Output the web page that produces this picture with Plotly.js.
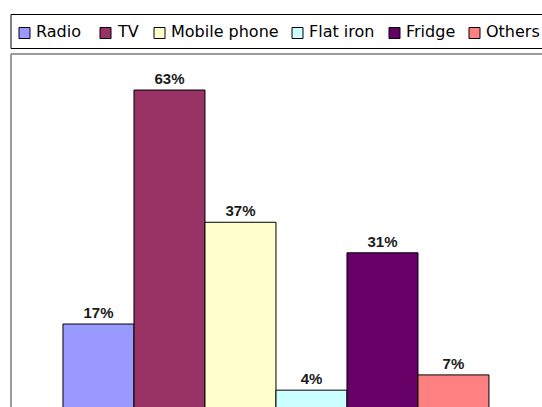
<!DOCTYPE html>
<html>
<head>
<meta charset="utf-8">
<script src="https://cdn.plot.ly/plotly-3.0.1.min.js"></script>
<style>html,body{margin:0;padding:0;background:#fff;}#chart{width:542px;height:407px;}</style>
</head>
<body>
<div id="chart"></div>
<script>
var categories = ["Radio", "TV", "Mobile phone", "Flat iron", "Fridge", "Others"];
var values = [17, 63, 37, 4, 31, 7];
var labels = ["17%", "63%", "37%", "4%", "31%", "7%"];
var colors = ["#9999FF", "#993366", "#FFFFCC", "#CCFFFF", "#660066", "#FF8080"];

// figure geometry (pixels)
var W = 542, H = 407, ML = 11, MT = 54;
var PW = W - ML, PH = H - MT;
function px(x) { return (x - ML) / PW; }
function py(y) { return (H - y) / PH; }

// legend layout: left edge of each legend swatch (pixels)
var legendSwatchLeft = [19, 100, 154, 292, 389, 469];
var swatch = 11, legendMidY = 32.5;

var traces = categories.map(function (name, i) {
  return {
    type: "bar",
    name: name,
    x: [i],
    y: [values[i]],
    width: 1,
    text: [labels[i]],
    textposition: "outside",
    textfont: {family: "Liberation Sans, Arial, sans-serif", size: 15, color: "#1a1a1a", weight: "bold"},
    cliponaxis: false,
    marker: {color: colors[i], line: {color: "#000", width: 1}},
    hoverinfo: "skip",
    showlegend: false
  };
});

var shapes = [
  {type: "rect", xref: "paper", yref: "paper", x0: px(11), x1: px(560), y0: py(48.5), y1: py(14.5), line: {color: "#000", width: 1}, fillcolor: "rgba(0,0,0,0)"},
  {type: "line", xref: "paper", yref: "paper", x0: px(11), x1: px(560), y0: py(54), y1: py(54), line: {color: "#7a7a7a", width: 1.5}},
  {type: "line", xref: "paper", yref: "paper", x0: px(11), x1: px(11), y0: py(420), y1: py(54), line: {color: "#7a7a7a", width: 1.5}}
];
var annotations = [];
categories.forEach(function (name, i) {
  var x0 = legendSwatchLeft[i];
  shapes.push({type: "rect", xref: "paper", yref: "paper",
    x0: px(x0), x1: px(x0 + swatch), y0: py(legendMidY + swatch / 2 + 0.5), y1: py(legendMidY - swatch / 2 + 0.5),
    line: {color: "#000", width: 1}, fillcolor: colors[i]});
  annotations.push({xref: "paper", yref: "paper", x: px(x0 + swatch + 4), y: py(legendMidY - 1),
    xanchor: "left", yanchor: "middle", showarrow: false, text: name,
    font: {family: "DejaVu Sans, sans-serif", size: 16, color: "#000"}});
});

var layout = {
  width: W,
  height: H,
  margin: {l: ML, r: 0, t: MT, b: 0},
  paper_bgcolor: "#fff",
  plot_bgcolor: "#fff",
  barmode: "overlay",
  showlegend: false,
  xaxis: {range: [-1.232, 6.247], showgrid: false, zeroline: false, showticklabels: false, showline: false, fixedrange: true},
  yaxis: {range: [0.69, 70.08], showgrid: false, zeroline: false, showticklabels: false, showline: false, fixedrange: true},
  shapes: shapes,
  annotations: annotations
};

Plotly.newPlot("chart", traces, layout, {displayModeBar: false, staticPlot: true});
</script>
</body>
</html>
